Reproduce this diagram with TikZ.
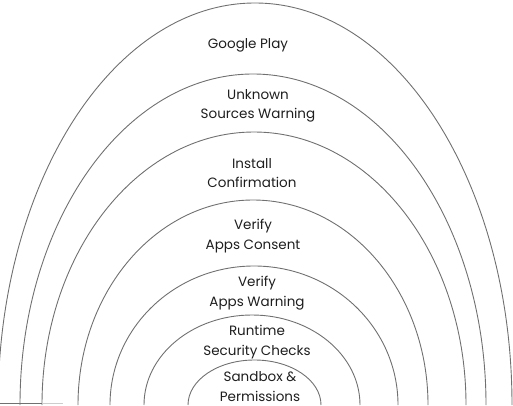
\documentclass[tikz,border=0pt]{standalone}
\usepackage{fontspec}
\setmainfont{Poppins}
\definecolor{ringgray}{HTML}{707070}
\definecolor{textgray}{HTML}{1E1E1E}
\begin{document}
\begin{tikzpicture}[x=1pt,y=1pt,
  ring/.style={draw=ringgray, line width=0.9pt},
  layer/.style={align=center, font=\fontsize{13.5}{19.5}\selectfont, text=textgray, inner sep=0pt}]
\useasboundingbox (0,0) rectangle (513,405);
\begin{scope}
  \clip (0,0) rectangle (513,405);
  % nested half-ellipses, outermost first
  \draw[ring] (512,0) arc[start angle=0, end angle=180, x radius=257, y radius=402];
  \draw[ring] (486,0) arc[start angle=0, end angle=180, x radius=233, y radius=331];
  \draw[ring] (466,0) arc[start angle=0, end angle=180, x radius=212, y radius=273];
  \draw[ring] (428,0) arc[start angle=0, end angle=180, x radius=175, y radius=205];
  \draw[ring] (398,0) arc[start angle=0, end angle=180, x radius=144, y radius=139];
  \draw[ring] (360,0) arc[start angle=0, end angle=180, x radius=108, y radius=90];
  \draw[ring] (321,0) arc[start angle=0, end angle=180, x radius=66.5, y radius=45];
  % short ground line at the lower left
  \draw[ringgray, line width=0.9pt] (0,1.2) -- (42,1.2);
  \draw[ringgray!35, line width=0.9pt] (42,1.2) -- (63,1.2);
\end{scope}
\node[layer] (play)     at (248,360) {Google Play};
\node[layer] (unknown)  at (258,299) {Unknown\\Sources Warning};
\node[layer] (install)  at (252,232) {Install\\Confirmation};
\node[layer] (consent)  at (253,169) {Verify\\Apps Consent};
\node[layer] (warning)  at (257,112) {Verify\\Apps Warning};
\node[layer] (runtime)  at (257,63)  {Runtime\\Security Checks};
\node[layer] (sandbox)  at (260,18.5) {Sandbox \&\\Permissions};
\end{tikzpicture}
\end{document}
